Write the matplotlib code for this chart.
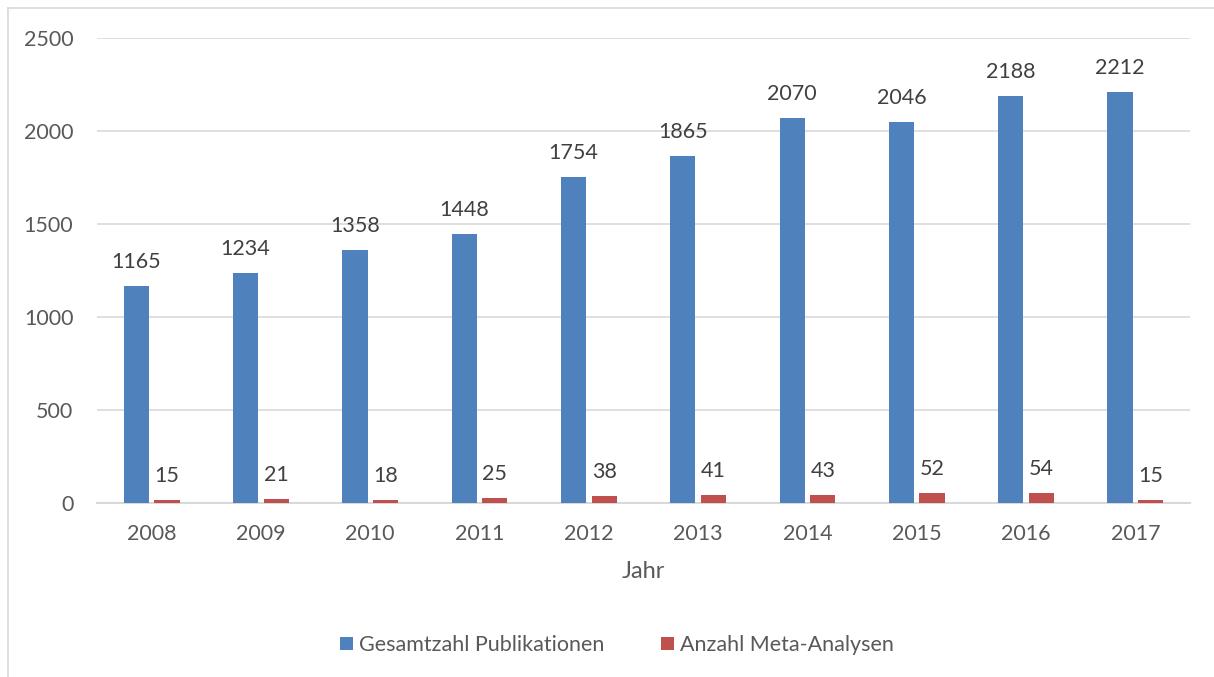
import numpy as np
import matplotlib
matplotlib.use("Agg")
import matplotlib.pyplot as plt
from matplotlib.lines import Line2D

# Daten aus dem Diagramm
jahre = ["2008", "2009", "2010", "2011", "2012", "2013", "2014", "2015", "2016", "2017"]
publikationen = [1165, 1234, 1358, 1448, 1754, 1865, 2070, 2046, 2188, 2212]
meta_analysen = [15, 21, 18, 25, 38, 41, 43, 52, 54, 15]

BLUE = "#4F81BD"
RED = "#C0504D"
TEXT = "#595959"
GRID = "#D9D9D9"

plt.rcParams["font.family"] = ["Lato", "DejaVu Sans"]

W, H = 1214, 677
fig = plt.figure(figsize=(W / 100, H / 100), dpi=100)

# Rahmen (nur oben und links sichtbar, Rest abgeschnitten)
fig.add_artist(Line2D([8 / W, 8 / W], [0, 1 - 8 / H], transform=fig.transFigure,
                      color=GRID, lw=1.2))
fig.add_artist(Line2D([8 / W, 1], [1 - 8 / H, 1 - 8 / H], transform=fig.transFigure,
                      color=GRID, lw=1.2))

ax = fig.add_axes([97 / W, (H - 503) / H, 1093 / W, 465 / H])

x = np.arange(len(jahre))
bw = 0.23
off = 0.14
b1 = ax.bar(x - off, publikationen, bw, color=BLUE, label="Gesamtzahl Publikationen", zorder=3)
b2 = ax.bar(x + off, meta_analysen, bw, color=RED, label="Anzahl Meta-Analysen", zorder=3)

for bars, vals in ((b1, publikationen), (b2, meta_analysen)):
    for rect, v in zip(bars, vals):
        ax.annotate(str(v), (rect.get_x() + rect.get_width() / 2, v),
                    xytext=(0, 13), textcoords="offset points", ha="center", va="baseline",
                    fontsize=15.5, color="#404040")

ax.set_xlim(-0.5, len(jahre) - 0.5)
ax.set_ylim(0, 2500)
ax.set_yticks(np.arange(0, 2501, 500))
ax.set_xticks(x)
ax.set_xticklabels(jahre)
ax.yaxis.grid(True, color=GRID, lw=1.2, zorder=0)
ax.set_axisbelow(True)
for s in ["top", "right", "left"]:
    ax.spines[s].set_visible(False)
ax.spines["bottom"].set_color(GRID)
ax.spines["bottom"].set_linewidth(1.5)
ax.tick_params(axis="both", length=0, labelsize=15.5, colors=TEXT)
ax.tick_params(axis="y", pad=17)
ax.tick_params(axis="x", pad=15)
ax.set_xlabel("Jahr", fontsize=17, color=TEXT, labelpad=12)

fig.legend(handles=[b1, b2], loc="center", bbox_to_anchor=(617 / W, 1 - 645 / H),
           ncol=2, frameon=False, fontsize=15.5, labelcolor=TEXT,
           handlelength=0.6, handleheight=0.6, handletextpad=0.3, columnspacing=2.6)

fig.savefig("out.png", dpi=100, facecolor="white")
